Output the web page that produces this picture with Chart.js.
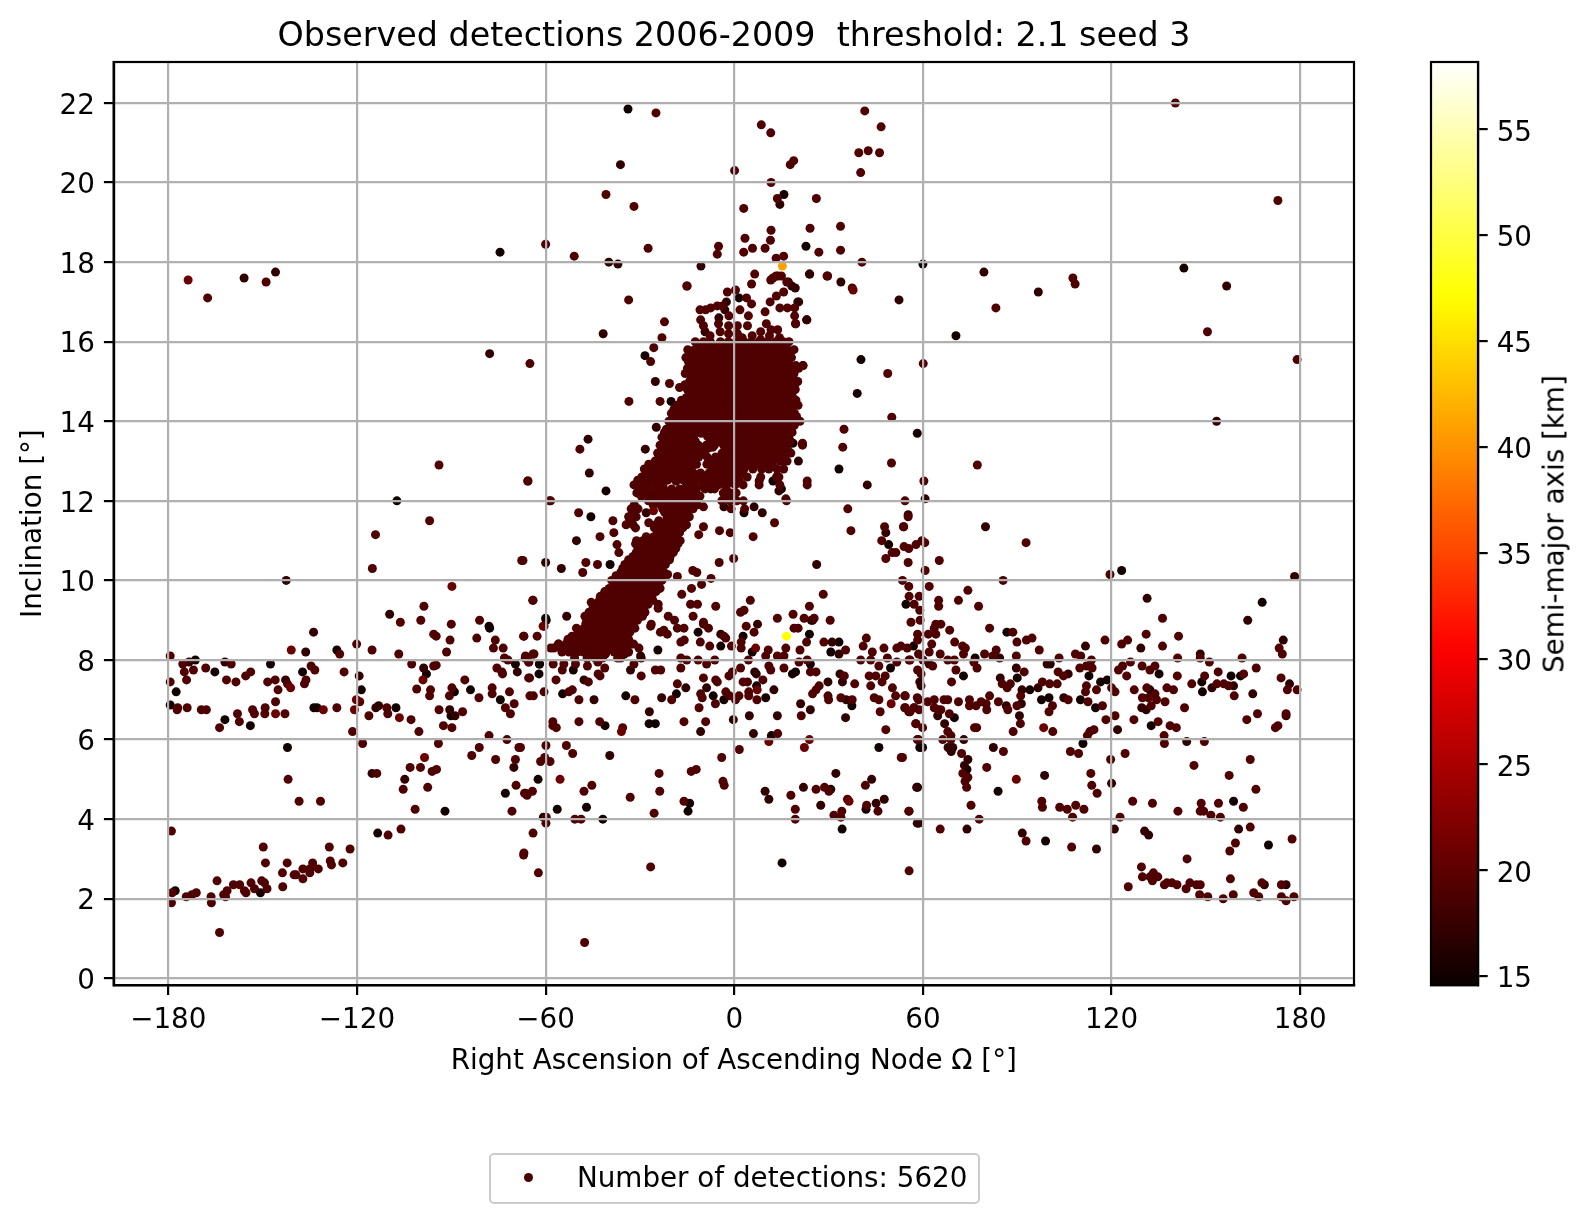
<!DOCTYPE html>
<html>
<head>
<meta charset="utf-8">
<title>Observed detections</title>
<script src="https://cdn.jsdelivr.net/npm/chart.js@4"></script>
<style>
html, body { margin: 0; background: #fff; }
body { width: 1591px; height: 1223px; position: relative; overflow: hidden; font-family: "DejaVu Sans", sans-serif; color: #000; }
canvas { position: absolute; top: 0; }
#legend { position: absolute; left: 489px; top: 1153px; width: 487px; height: 47px; border: 2.2px solid #cccccc; border-radius: 5px; font-size: 27.78px; line-height: 46px; }
#legend i { position: absolute; left: 33px; top: 18px; width: 9px; height: 9px; border-radius: 50%; background: #4b0000; }
#legend span { position: absolute; left: 86px; white-space: nowrap; }
#cbarLabel { position: absolute; left: 1554px; top: 524px; transform: translate(-50%, -50%) rotate(-90deg); font-size: 27.78px; white-space: nowrap; }
</style>
</head>
<body>
<canvas id="scatter" width="1468" height="1223" style="left:0;width:1468px;height:1223px"></canvas>
<canvas id="cbar" width="180" height="1223" style="left:1411px;width:180px;height:1223px"></canvas>
<div id="legend"><i></i><span>Number of detections: 5620</span></div>
<div id="cbarLabel">Semi-major axis [km]</div>
<script>
const raanTicks = [-180, -120, -60, 0, 60, 120, 180];
const inclTicks = [0, 2, 4, 6, 8, 10, 12, 14, 16, 18, 20, 22];
const cbarTicks = [15, 20, 25, 30, 35, 40, 45, 50, 55];

// semi-major axis of each shade group, km
const smaBright = 20.8, smaMain = 19, smaDark = 17, smaBlack = 15.2, smaOrange = 41, smaYellow = 47;

const orangePts = [[15.3,17.9]];
const yellowPts = [[16.6,8.6]];

// inclination -> RAAN rows of the dense streak and blob
const blobRows = [
[16,[-12.4,-9.8,-7.6,-4.4,-1.9,0.6,3.1,5.4,7.9,10.6,13.2,15.6,17.4]],
[15.8,[-14.8,-12.6,-10.2,-7.9,-5.1,-2.8,-0.2,2.4,4.6,7.1,9.5,12.1,14.7,16.9,19]],
[15.6,[-15.4,-13.3,-10.8,-8.4,-6.1,-3.6,-1,1.7,3.9,6.2,8.8,11.4,13.6,16.1,18.2]],
[15.4,[-13.9,-11.5,-9.1,-6.9,-4.2,-1.8,0.9,3.2,5.6,8,10.3,12.9,15.4,17.8,19.6,21.9]],
[15.2,[-15.6,-13,-10.4,-7.7,-5.3,-2.9,-0.3,2.1,4.8,7.3,9.7,12,14.6,16.8,19]],
[15,[-14.2,-11.8,-9.6,-6.6,-4.1,-1.5,1.2,3.6,6,8.5,11.1,13.4,15.8,17.9,20.2]],
[14.8,[-14.9,-12.3,-9.9,-7.2,-4.8,-2.2,0.5,2.9,5.3,7.7,10.2,12.7,15.1,17.3,19.4]],
[14.6,[-15.2,-13.1,-10.6,-8.2,-5.7,-3.3,-0.9,1.8,4.3,6.7,9.2,11.6,14,16.5,18.6]],
[14.4,[-18.2,-15.9,-13.4,-11,-8.8,-6.4,-3.8,-1.2,1.3,3.7,6.1,8.6,11,13.4,15.9,18.1,20.3]],
[14.2,[-20,-17.4,-14.9,-12.5,-10.1,-7.6,-5,-2.7,0,2.5,4.9,7.4,9.9,12.3,14.8,17,19.2]],
[14,[-20.8,-18.3,-16,-13.6,-11.2,-8.6,-6.2,-3.7,-1,1.6,4.1,6.5,9,11.5,13.8,16.2,18.7,20.9]],
[13.8,[-21.6,-19.1,-16.8,-14.2,-11.9,-9.4,-7,-4.4,-2,0.8,3.2,5.7,8.1,10.6,13,15.5,17.8]],
[13.6,[-23,-20.4,-18,-15.5,-13,-7.6,-5.1,-2.6,0.1,2.7,5.2,7.6,10.1,12.4,14.9,17.3]],
[13.4,[-23.6,-21.2,-18.8,-16.3,-13.9,-11.4,-8.9,-6.3,-3.4,-1,1.5,4,6.4,8.9,11.3,13.9,16.4,21.7]],
[13.2,[-24.4,-22,-19.6,-17,-14.6,-12,-9.5,-3.9,-1.6,0.7,3.3,5.8,8.2,10.7,13.1,15.4,18]],
[13,[-25.2,-22.8,-20.3,-17.9,-15.3,-12.8,-7.7,-5,-2.3,0.2,2.6,5.1,7.4,9.9,12.2,14.6,16.8]],
[12.8,[-28.6,-26,-23.4,-21,-18.6,-16.2,-13.7,-7,-4.4,-1.8,0.4,3.1,5.9,8.7,11,13.6,15.7]],
[12.6,[-29.4,-27.1,-24.6,-22,-19.5,-17,-14.4,-12,-9.4,-6.8,-4.1,-1.5,0.9,4.1,8.4,13.5,14.2]],
[12.4,[-31.9,-29.6,-27.4,-25,-22.7,-15.2,-12.8,-10,-7.5,-5,-2.4,0.3,2.8,7.9,23.2,14.5]],
[12.2,[-31,-28.9,-26.2,-23.8,-20.6,-18.1,-15.8,-13.1,-3.5,-1.2,0.6]],
[12,[-27.3,-24.7,-21.7,-19.4,-17,-14.6,-12.2,-4,-1.4,0.8,2.9,16.6]],
[11.8,[-32.8,-30.6,-22.8,-20.2,-18,-15.5,-13.1,-1,3.3]],
[11.6,[-33.6,-31.2,-21.4,-19,-16.8,-14.3]],
[11.4,[-34.4,-32.2,-25,-22.6,-20,-17.6,-15.2]],
[11.2,[-24.4,-22.2,-19.8,-17.4]],
[11,[-31.1,-29.1,-26.4,-24,-21.8,-19.4,-17.2]],
[10.8,[-30.6,-28,-25.7,-23.4,-21,-18.6]],
[10.6,[-32.2,-30,-27.6,-25.2,-22.9,-20.4]],
[10.4,[-34.8,-32.8,-30.4,-28.2,-25.6,-23.3,-21.9]],
[10.2,[-36.1,-34,-31.8,-29.4,-27,-24.8,-22.4]],
[10,[-39,-36.8,-34.4,-32,-29.7,-27.5,-25,-23]],
[9.8,[-39.8,-37.4,-35.2,-32.8,-30.5,-28.2,-25.9,-23.6]],
[9.6,[-42.6,-40.4,-38,-35.7,-33.4,-31,-28.7,-26.2]],
[9.4,[-43.8,-41.2,-39,-36.6,-34.2,-31.8,-29.4,-27.4]],
[9.2,[-46.2,-44.2,-41.8,-39.5,-37.2,-34.9,-32.4,-30,-28.4]],
[9,[-46.8,-44.9,-42.6,-40.2,-37.9,-35.5,-33.1,-30.8]],
[8.8,[-50.2,-47.8,-45.4,-43,-40.8,-38.4,-36,-33.7,-31.6]],
[8.6,[-51.6,-49.2,-46.6,-44.1,-41.5,-39.2,-36.8,-34.3]],
[8.4,[-56,-53.6,-52.2,-49.9,-47.3,-44.8,-42.4,-39.9,-37.6,-35,-32.8]],
[8.2,[-54.8,-52.6,-50.4,-48,-45.6,-43.3,-40.7,-38.2,-35.9,-33.8]],
[8.05,[-50.8,-46.8,-44.2,-41.9,-37.1]]
];
const blobFillRows = [
[15.9,[-11,-8.9,-6.2,-3.1,-0.7,1.9,4.3,6.6,9.2,11.8,14.3,16.4]],
[15.72,[-13.9,-11.6,-9.2,-6.9,-4.6,-2,0.6,3,5.3,8,10.4,12.9,15.3,17.7]],
[15.5,[-14.6,-12.2,-9.8,-7.3,-5,-2.6,0,2.4,4.9,7.1,9.6,12.2,14.5,17]],
[15.33,[-14.9,-12.4,-9.9,-8,-5.8,-3.4,-1,1.4,4,6.4,8.8,11.2,13.8,15.9,18.3,20.5]],
[15.1,[-13.6,-11.1,-8.7,-6.1,-3.5,-0.9,1.7,4.2,6.7,9,11.5,14,16.4,18.7]],
[14.92,[-15.7,-13.4,-10.9,-8.4,-5.9,-3.2,-0.7,2.2,4.5,6.9,9.4,11.9,14.4,16.7,19.1]],
[14.7,[-14,-11.5,-9,-6.3,-3.9,-1.4,1.3,3.7,6.2,8.6,11,13.6,16,18.2]],
[14.53,[-16.8,-14.5,-12,-9.7,-7.1,-4.6,-2.1,0.4,2.9,5,7.5,10,12.4,14.9,17.2,19.6]],
[14.3,[-19.2,-16.6,-14,-11.7,-9.3,-6.9,-4.4,-1.9,0.8,3.2,5.6,8,10.5,13,15.5,18]],
[14.12,[-19.4,-17.1,-14.7,-12,-9.8,-7,-4.5,-2.2,0.3,2.9,5.3,7.9,10.4,12.8,15.1,17.6,19.8]],
[13.9,[-20.3,-17.7,-15.2,-12.9,-10.4,-7.9,-5.4,-2.9,-0.2,2.2,4.7,7.1,9.7,12,14.4,16.9,19.1]],
[13.72,[-22.2,-19.7,-17.4,-14.9,-12.3,-6.3,-3.8,-1.2,1.3,3.9,6.2,8.8,11.2,13.7,16.1,18.4]],
[13.5,[-22.3,-19.9,-17.2,-14.8,-12.4,-7.1,-4.6,-1.9,0.9,3.4,5.9,8.3,10.9,13.2,15.7,17.9]],
[13.33,[-23.1,-20.7,-18.2,-15.7,-13.2,-10.7,-8,-2.7,-0.3,2.1,4.6,7,9.5,12,14.4,16.9]],
[13.1,[-23.8,-21.4,-18.9,-16.4,-14,-11.3,-8.6,-6,-3.4,-1,1.5,4,6.4,8.8,11.2,13.7,15.9]],
[12.92,[-27.2,-24.6,-22,-19.7,-17.2,-14.6,-12,-8.7,-5.9,-3.3,-0.8,1.8,4.4,6.8,9.6,12.1]],
[12.7,[-28,-25.4,-23,-20.4,-18,-15.5,-13,-10.7,-8,-5.5,-2.9,-0.3,2.3]],
[12.52,[-30.7,-28.4,-26,-23.6,-21.2,-18.7,-16.2,-13.6,-11.1,-8.6,-6.1,-3.3,-0.9,1.6]],
[12.3,[-30.3,-27.7,-25,-22.4,-19.9,-17.4,-14.7,-12,-9.3,-6.3,-2.6]],
[12.12,[-29.6,-27,-22.6,-20.3,-18.2,-15.9,-13.4,-10.9,-3,-0.4]],
[11.9,[-31.8,-25.8,-23.5,-21,-18.7,-16.3,-14,-11.7]],
[11.72,[-32.4,-22.2,-20,-17.6,-15.2]],
[11.5,[-33.2,-24,-21.4,-18.9,-16.4]],
[11.32,[-31.4,-25.4,-23.3,-21,-18.6,-16.4]],
[11.1,[-28,-25.6,-23.2,-20.8,-18.4]],
[10.92,[-31.4,-29.3,-27.2,-24.8,-22.4,-20.2,-17.9]],
[10.7,[-31.2,-28.8,-26.4,-24.2,-21.8,-19.4]],
[10.52,[-33.6,-31.1,-29,-26.7,-24.3,-22,-20.6]],
[10.3,[-35.5,-33.1,-30.7,-28.5,-26,-23.7]],
[10.12,[-37.6,-35.2,-33,-30.6,-28.4,-25.9,-23.2]],
[9.9,[-38.4,-36,-33.6,-31.2,-28.9,-26.6,-24.3]],
[9.72,[-41.2,-38.9,-36.5,-34.2,-31.9,-29.4,-27,-24.9]],
[9.5,[-42.9,-40.2,-37.7,-35.4,-33,-30.6,-28.2,-25.9]],
[9.32,[-44.9,-42.6,-40.3,-37.9,-35.6,-33.2,-31,-28.8]],
[9.1,[-47.5,-45.4,-43,-40.9,-38.5,-36.2,-33.8,-31.5,-29.2]],
[8.92,[-47.2,-44.3,-41.9,-39.6,-37.2,-34.8,-32.4]],
[8.7,[-49.6,-47.2,-44.9,-42.4,-40.1,-37.6,-35.3,-33.2]],
[8.52,[-52.9,-50.5,-48.1,-45.6,-43.1,-40.7,-38.4,-36.1,-33.6]],
[8.3,[-55.2,-53.1,-51,-48.7,-46.4,-44,-41.5,-39,-36.8,-34.4]]
];

const brightPts = [[-173.7,17.55],[-141.1,7.3],[-140.9,8.25],[-145.9,6.65],[-130.7,6.75],[-120.2,7],[-120.8,6.75],[-106.5,6.55],[-99,7.5],[-98.5,5.55],[-89.8,9.85],[-60.8,8.85],[-55.4,5],[-35.9,6.2],[-25.7,11.75],[7.3,7.25],[6.8,8.3],[23.9,6],[22.3,5.8],[11,5.95],[98.4,6.3],[89.7,5],[37.8,17.3],[49.9,6.9],[36.5,4.45]];

const mainPts = [
[-179.4,8.1],[-175.4,7.9],[-174.9,7.7],[-172,7.75],[-174.2,7.5],[-179.4,7.45],[-168.1,7.8],[-160,7.9],[-161.5,7.5],[-158.5,7.45],[-155.4,7.6],[-153.8,7.7],[-148.4,7.45],[-146,7.5],[-145.1,7.25],[-142.1,7.4],[-134.6,7.85],[-133.4,7.75],[-136.2,7.5],[-136.7,7.4],[-125.5,8.15],[-124.1,7.7],[-120.1,8.4],[-115.2,8.25],[-106.7,8.15],[-102.6,7.9],[-95.6,7.85],[-94.8,7.87],[-101,7.27],[-96.6,7.25],[-96.9,7.1],[-89.8,7.3],[-90.6,7.1],[-85.7,7.5],[-81.2,7.05],[-77,7.3],[-77,7.15],[-71.5,7.2],[-70,6.9],[-72.8,6.8],[-71.2,6.65],
[-177,6.8],[-177.2,6.75],[-174,6.8],[-169.5,6.75],[-167.9,6.75],[-158,6.65],[-157.4,6.45],[-163.7,6.3],[-153.2,6.75],[-152.6,6.65],[-149.2,6.8],[-149.3,6.65],[-145.9,6.95],[-142.9,6.65],[-126.4,6.8],[-119.1,6.95],[-116.2,6.6],[-110.5,6.8],[-110.2,6.65],[-102.8,6.5],[-100.3,6.2],[-121.4,6.2],[-118.2,5.9],[-93.9,6.75],[-86.4,6.7],[-92.5,6.35],[-89.8,6.3],[-94.1,5.9],[-78,6.1],[-72.3,6],[-68.5,5.8],[-81.1,5.8],[-83.5,5.6],[-75.9,5.5],[-69.6,5.5],[-69.4,4.85],[-66.7,4.65],[-65.9,4.6],[-70.7,4.2],[-103.1,5.3],[-99.8,5.3],[-96.1,5.2],[-94.7,5.25],[-97.5,4.8],[-105.3,4.75],[-101.5,4.25],[-113.7,5.15],[-141.9,5],[-138.4,4.45],[-131.6,4.45],[-106,3.75],[-110.1,3.6],[-67,3.1],[-179,3.7],
[-149.8,3.3],[-149.1,2.9],[-142.2,2.9],[-143.7,2.65],[-143.6,2.3],[-140,2.6],[-139.4,2.6],[-137.2,2.75],[-137.2,2.5],[-135,2.75],[-135,2.65],[-134.1,2.9],[-132.3,2.75],[-128.8,3.3],[-122.2,3.25],[-128.5,2.95],[-128.1,2.85],[-124.5,2.9],[-164.5,2.45],[-178.8,2.15],[-179,1.9],[-174.3,2.05],[-172.5,2.1],[-171.1,2.15],[-166.4,2.05],[-166.3,1.9],[-163.7,1.15],[-162.4,2.1],[-161.3,2.2],[-161.8,2.05],[-159.3,2.35],[-157.3,2.35],[-155.8,2.2],[-155.3,2.15],[-153.7,2.4],[-152.6,2.25],[-150.3,2.45],[-149.4,2.4],[-148.6,2.25],
[-95.6,8.65],[-94.8,8.6],[-90.4,8.5],[-91.5,8.2],[-81.9,8.55],[-76,8.5],[-73.5,8.3],[-76.6,8.3],[-73.1,8.05],[-72,8],[-66.4,8.1],[-65.4,7.95],[-75.5,7.8],[-73.9,7.7],[-73.7,7.65],[-65.4,7.55],[-65,7.1],[-106.2,8.95],[-90,8.9],[-81,9],[-99.7,9],
[-167.5,17.1],[-148.9,17.5],[-60,18.45],[-65,15.45],[-93.9,12.9],[-58.8,12],[-96.9,11.5],[-114.1,11.15],[-67.6,10.5],[-115.1,10.3],[-64.1,9.5],[-98.7,9.35],
[-33.6,17.05],[-15,17.4],[-22.2,16.5],[-23,16.1],[-25.6,15.85],[-26.6,15.5],[-20.6,14.95],[-17.4,14.85],[-23.6,14.5],[-33.5,14.5],[-49.1,13.3],[-65.6,12.5],[-58.4,12],[-49.5,11.7],[-38.6,11.5],[-42.7,11.1],[-38.3,11.2],[-37.3,10.9],[-36.7,10.7],[-67.2,10.5],[-47.2,10.45],[-43.5,10.4],[-48.2,10.2],[-64,9.5],[-45.5,9.45],[-60.5,8.85],[-66.9,8.6],[-62.7,8.6],[-64,8.15],[-66.5,8.05],
[-9.8,11.85],[-27.2,11.45],[-9.8,11.35],[-11.3,11.15],[-4.7,11.25],[-1.3,11.2],[6,11.1],[12.8,11.45],[-4.8,10.45],[-0.2,10.55],[-13.2,10.25],[-11.9,10.2],[-18.1,10.1],[-7.4,10.05],[-21.2,10.15],[-10.4,9.9],[-13.6,9.8],[-16.7,9.65],[5.1,9.5],[28.3,9.65],[23.9,9.35],[-13.9,9.4],[-11.7,9.4],[-5.9,9.35],[-24.2,9.4],[-24.2,9.3],[2,9.2],[3.1,9.25],[18.7,9.15],[-21,9.1],[-19,9],[-13.1,9.1],[-9.8,8.95],[13.7,9.05],[22.2,9.05],[25.4,9.05],[3.8,8.85],[-26.6,8.85],
[5.5,17.45],[-2.2,17.25],[0.4,17.3],[3.9,17.1],[5.5,16.95],[1.8,16.8],[4.5,16.65],[-3.8,16.9],[-5.4,16.9],[-7.5,16.85],[-9.1,16.8],[-10.9,16.8],[-1.7,16.65],[-10.7,16.55],[-9.8,16.4],[-7.7,16.15],[-5,16.45],[-4.5,16.25],[-1.8,16.4],[1,16.4],[4.2,16.4],[-1.8,16.2],[1,16.2],[2.5,16.1],[5.7,16.15],[8.4,16.25],[10.2,16.45],[9.8,16.75],[11.4,17],[13.4,17.15],[14.5,16.85],[16.9,16.85],[19.2,16.85],[19.5,16.45],[15.7,17.25],[16.7,17.5],[13.9,17.65],[12.3,17.6],[19.2,16.65],[11.7,16.3],[13.8,16.3],[11.2,16.15],[14.4,16.1],[8.4,16.05],[20,14.05],[21.7,13.45],[7.9,12.5],[13.5,12.6],
[-57.4,8.3],[-55.8,8.4],[-58.4,8.3],[-63.7,8.15],[-32,8.4],[-30.3,8.3],[-54.2,7.9],[-50.5,7.9],[-46.7,7.85],[-43.4,7.95],[-36.1,8.05],
[-10.6,13.7],[-8.5,13.62],[-9.4,13.78],[-8.4,13.42],[-6.8,13.35],
[-33.6,8.2],[-26.4,8.9],[-22.4,8.75],[-18.1,8.8],[-16,8.8],[-9.8,8.9],[-8.2,8.8],[-21.3,8.65],[-23.5,8.7],[-15.9,8.5],[-17,8.45],[-10.8,8.45],[-7.8,8.35],[-2.7,8.55],[-3.3,8.6],[-0.9,8.35],[2.2,8.45],[2.2,8.3],[6.3,8.7],[4.5,8],[10.8,8.25],[10,8.1],[13.7,8.1],[16.4,8.3],[15.8,8.1],[20.9,8.25],[23,8.45],[19,8.8],[20.3,8.8],[30.5,9],[28.5,8.45],[35.4,8.25],[42,8.55],[41,8.35],[40.2,8],[43.9,8.2],[43.4,8],[47.6,8.3],[48.7,8.05],[51.7,8.3],[55,8.3],[51.7,7.95],[55.9,8],[46,7.85],[48,7.6],[42.9,7.6],[45,7.6],[47,7.45],[43.4,7.35],[50.3,7.3],[51.3,7.1],[54.2,7.1],[58.2,7.05],[44.5,7.05],[46,7],[46.4,6.7],[54.2,6.8],[55.5,6.7],[57.2,6.8],[48.2,6.25],[57.7,6.4],[58.2,6],[53.1,5.55],[20.6,7.95],[15.8,7.8],[11,7.85],[11.6,7.75],[23.2,8],[24.2,7.7],[26,7.7],[35,7.6],[38.3,7.4],[27,7.35],[26,7.25],[24.9,7.15],[29.8,7.1],[30,7],[33.9,7.05],[37.5,7],[21.3,6.6],
[2,7.8],[9.1,7.5],[2.8,7.45],[4.2,7.45],[4.6,7.2],[4.6,7.1],[7.2,7],[-1.7,7.6],[-0.6,7.7],[-5.9,7.5],[-5.4,7.45],[-9.8,7.55],[-2.7,7.2],[-1.5,7.1],[1.5,7.1],[0.4,7],[-10.7,7.15],[-10.2,7.05],[-6,6.9],[-18.1,7.4],[-19.9,7],[-11.2,6.8],[-17,8.05],[-17,7.8],[-15.1,8],[-11.5,8],[-6.2,8],[-8.8,7.9],[-25.1,7.75],[-23.4,7.75],[-29.6,7.6],[-31.9,7.9],[-42.7,7.6],[-43.3,7.65],[-41.2,7.8],[-46.4,7.45],[-51.5,7.25],[-52.6,7.2],[-49.4,7],[-31.6,7],[-56.7,7.5],[-65.1,7.55],[-60.5,7.2],[-63.9,7.1],[-65.3,7.95],[-57.6,7.9],[-54.7,7.75],
[-16,6.45],[-9.1,6.45],[13.8,6.15],[1.6,5.75],[-4,5.55],[-49.4,6.45],[-42.8,6.45],[-35.5,6.3],[-57.7,6.45],[-57.7,6.35],[-56.6,6.3],[-68,5.8],[-59.9,5.85],[-53.4,5.85],[-51.4,5.65],[-60.3,5.55],[-61.6,5.45],[-58.6,5.45],[-45.3,4.85],[-47.8,4.7],[-33.1,4.55],[-23.9,5.15],[-23.7,4.7],[-13.7,5.2],[-12.1,5.25],[-3.6,4.95],[-3.2,4.85],[-16,4.45],[-25.5,4.15],[-59.8,4.05],[-59.9,3.9],[-50.7,4],[-48.7,4],[-64.2,4.7],[-66.4,4.65],[-64,3.65],[-66.9,3.15],[-62.3,2.65],[-26.6,2.8],[-47.6,0.9],[55.6,2.7],[19.4,4],[19.4,4.25],[31.7,4.1],[34.2,4.2],[33.9,4.05],[42.1,4.35],[45.7,4.2],[55.5,4.2],[36,4.5],[28.7,4.8],[30.1,4.7],[26,4.75],[18,4.6],[41.7,4.85],
[54.3,12],[55.3,11.6],[53.8,11.35],[92.8,10.95],[59.7,11],[60.6,10.95],[57.8,10.9],[54,10.85],[55.5,10.8],[55.3,10.45],[65.2,10.5],[60.7,10.25],[53.5,10],[85.5,10],[119.5,10.15],[55.5,9.85],[62,9.85],[74.3,9.75],[71.3,9.5],[77.7,9.35],[65,9.5],[65,9.35],[58.8,9.6],[55.6,9.6],[57.2,9.4],[59,9.25],[136.2,9.05],[59.1,9],[56.2,8.95],[64.1,8.9],[65.7,8.9],[63.6,8.8],[68.5,8.75],[61.7,8.65],[58.3,8.65],[58.3,8.5],[64.1,8.65],[81.2,8.8],[88.6,8.7],[89.9,8.45],[92.9,8.5],[94.7,8.55],[97,8.25],[117.9,8.5],[123.2,8.4],[125.1,8.5],[131,8.65],[136.2,8.35],[141.3,8.6],[173.3,8.3],[174.3,8.15],[70.1,8.45],[72.6,8.35],[73.5,8.3],[62.8,8.4],[62,8.2],[65.5,8.15],[53,8.35],[58.6,8.15],[72.9,8.15],[79.6,8.15],[83.3,8.25],[82.2,8.1],[89.7,8.1],[55.6,8],[60,8],[67.9,8],[70,8],[76.2,7.95],[77.2,7.8],[70.5,7.75],[63.1,7.85],[58.3,7.75],[59.4,7.65],[69.1,7.45],[92.2,7.7],[85.2,7.4],[87.8,7.4],[86.8,7.3],[91.1,7.1],[98,7.45],[100.3,7.4],[102.7,7.4],[103.3,8.05],[103,7.7],[104.7,7.6],[108.5,8.15],[110.2,8.1],[109.9,7.8],[112,7.85],[113.6,8],[113.8,7.8],[112,7.35],[111.7,7.2],[115.2,7.25],[120,7.3],[121.1,7.2],[122.2,7.75],[123.5,7.85],[126,7.95],[124.8,7.6],[127.2,7.25],[129.7,7.85],[132.2,7.75],[133.8,7.85],[140.9,7.6],[141,8.05],[148.2,8.05],[151.1,7.95],[153.9,7.7],[149.6,7.6],[145.5,7.4],[153.5,7.4],[155.7,7.4],[157.2,7.35],[159,7.1],[162,7.65],[161.5,8.05],[166,7.8],[173.9,7.55],[175.9,7.25],[179,7.25],[137.6,7.3],[139.7,7.25],[137,6.95],[131.2,7.3],[133.8,7.15],[129.8,7.05],[131.7,7.05],[134.3,7],[132.6,6.85],[143.2,6.8],[127.1,6.5],[134.8,6.45],[138.6,6.35],[140.6,6.3],[136.7,6.1],[136.8,5.9],[149.5,5.95],[163,6.5],[166.4,6.65],[175.5,6.65],[172.1,6.3],[172.9,6.35],[121.1,6.6],[118.2,6.5],[114.4,6.25],[113.1,6.2],[112.3,6.1],[106.9,5.7],[109.5,5.65],[119.7,5.5],[124.3,5.65],[164.1,5.5],[146.2,5.35],[113.4,5.15],[113.7,4.85],[115.4,4.65],[157.4,5.1],[165.9,4.75],[126.7,4.45],[133,4.4],[141.1,4.2],[148.5,4.4],[148.2,4.2],[149.3,4.2],[151.6,4.1],[154,4.4],[154.6,4.05],[161.9,4.3],[122.7,4.05],[97.8,4.45],[98,4.3],[103.5,4.3],[105.9,4.25],[108.6,4.35],[111.2,4.25],[107.6,4.05],[75.3,4.35],[77.9,4],[55.6,4.2],[65.5,3.75],[92.8,3.45],[107.3,3.3],[164.1,3.8],[177.4,3.5],[159.4,3.4],[157.6,3.2],[144,3],
[129.5,2.8],[129.8,2.55],[132.2,2.55],[133.3,2.65],[134.7,2.55],[133,2.45],[137.6,2.4],[139.2,2.4],[140.8,2.35],[136.8,2.35],[143.7,2.25],[144.9,2.4],[148.2,2.35],[157.8,2.5],[125.3,2.3],[147,2.35],[148,2.1],[150.6,2.05],[155.5,2],[158.7,2.1],[166.8,2.05],[167.8,2.4],[165.2,2.15],[174,2.35],[174,2.05],[175.5,1.95],[178,2.05],
[63.6,6.8],[64.9,6.75],[65.7,6.75],[68.4,6.65],[57.8,6.4],[59.9,6.3],[67.9,6.2],[68.9,6.1],[66.3,6],[68.9,6],[72.3,5.65],[58.6,6],[53.5,5.55],[72.7,5.15],[74.3,5.05],[73.4,4.95],[73.9,4.8],[80.3,5.3],[85.6,5.7],[54.4,7.1],[58.6,7],[61.5,6.95],[63.6,7],[66.7,7],[67.9,7],[71.3,6.95],[74.8,7],[74.8,6.85],[76.9,6.85],[78.5,6.95],[80.1,6.9],[80.3,6.75],[81.2,7.1],[84,6.95],[87,6.75],[89.9,6.85],[91,6.4],[88.7,6.2],[77.1,6.3],[76.4,6.3],[54.4,6.8],[57.2,6.8],[55.9,6.7],[58.8,6.75],[101.3,6.2],[106.2,7],[112.5,6.95],[117.1,6.85],[101.2,6.85],[100.1,6.7],
[-24.9,21.75],[41.5,21.8],[46.7,21.4],[8.6,21.45],[11.6,21.25],[39.6,20.75],[42.6,20.8],[46.2,20.75],[17.8,20.45],[18.9,20.55],[0.1,20.3],[40.2,20.25],[11.7,20],[13.7,19.6],[26.1,19.6],[-40.8,19.7],[-31.9,19.4],[3,19.35],[24.1,18.85],[33.8,18.9],[11.7,18.8],[11.5,18.55],[3.4,18.6],[5.8,18.35],[9.8,18.35],[3,18.25],[-5,18.4],[-5.4,18.2],[26.9,18.25],[33.8,18.3],[-50.9,18.15],[-27.4,18.35],[40.6,18],[13.3,18.1],[15.7,18.15],[6.5,17.7],[11.6,17.55],[13.3,17.65],[15,17.65],[29.5,17.65],[37.5,17.35],[-15.1,17.4],
[140.3,22],[172.9,19.55],[107.7,17.6],[108.4,17.45],[83.2,16.85],[150.5,16.25],[179,15.55],[29.7,17.65],[60.1,15.45],[48.8,15.2],[21.8,15.4],[19.5,16.45],[50.1,14.1],[34.9,13.8],[34.5,13.35],[50,12.95],[77.3,12.9],[23.2,12.5],[60.3,12.5],[16.4,12.05],[36.1,11.8],[37.1,11.25],[47.8,11.35],[53.9,11.35],[46.9,11],[50.2,10.7],[51.4,10.7],[48.2,10.55]
];

const darkPts = [
[-173.4,7.95],[-162,7.95],[-142.7,7.5],[-136.3,8.2],[-133.8,8.7],[-98.8,7.8],[-119.3,7.6],[-114,6.8],[-113.1,6.85],[-90.5,6.75],[-88.8,6.6],[-104.8,5],[-115.2,5.15],[-70.1,5.3],[-155.9,17.6],[-145.9,17.75],[-77.8,15.7],[-65.7,12.5],[-60,10.45],[-142.5,10],[-109.6,9.15],[-67,8.6],[-69,7.7],
[-41.7,16.2],[-25.1,15],[-24.8,13.85],[-46.5,13.55],[-28.3,13.3],[-46.1,12.7],[-50.2,11],[-55,10.3],[-53.3,9.1],
[26.2,10.4],[7.4,8.9],[-2.5,17],[-3,16.8],[-4.9,16.6],[-9.3,16.25],[23,16.55],[20.2,17],[18.3,17.4],[-4.3,8.65],[24.5,9],[31.1,8.45],[33.3,8.15],[33.6,7.65],[34.4,7.45],[29.8,7.45],[35.6,7],[21.1,6.9],[24.2,6.75],[35.4,6.55],[6.5,7.7],[7,7.65],[12.6,7.25],[-8.8,7.3],[-15.4,7.3],[-23.1,7.05],[-47.8,7.5],[-44.6,7],[-33,7.75],[-29.6,8.05],
[-27,6.7],[-10.7,6.2],[-0.3,6.5],[4.8,6.6],[13.7,6.6],[6.1,6.15],[-39.6,5.6],[22,4.8],[9.8,4.7],[11,4.5],[27.5,4.35],[45.1,4.4],[47.7,4.5],[58.2,3.9],[32.3,5.15],[43.7,5],[58,4.8],
[59,7.45],[59.4,7.35],[62,7.9],[64.7,6.6],[66.9,6.4],[68,5.8],[69.5,5.8],[69,5.7],[73,6],[74.3,5.5],[73.2,5.35],[82.4,5.8],[84.4,8.05],[89.7,7.8],[84.6,7.55],[91.5,7.25],[96.6,7.3],[99.5,7.9],[100.5,7.9],[106.2,7.65],[86.5,6.85],[90.7,6.6],[91.3,6.9],[104.8,7.05],[129.6,6.8],[131,6.75],[121.9,6.25],[143.9,5.95],[111.7,8.35],[129.3,8.3],[148.2,8.15],[176.6,7.4],[164.9,7.15],[151.9,7.3],[158.8,7.35],[163.3,9],[174.6,8.5],[175.5,6.6],[131.3,9.55],[178.2,10.1],[79.9,11.35],[98.7,5.1],[120,4.9],[58.7,3.9],[74,3.75],[91.6,3.65],[115.2,3.25],[120.9,3.75],[130.5,3.7],[131.8,3.6],[160.4,3.75],[168.6,2.35],[175.5,2.35],
[-36.2,20.45],[14.5,19.45],[-39.9,18],[-37,17.95],[-10.6,17.9],[23.9,17.7],[33.9,17.5],[17.2,17.5],[19.4,17.35],[79.4,17.75],[96.7,17.25],[156.6,17.4],[153.4,14],[52.4,17.05],[24,17.7],[23.1,16.55],[20.5,17],[42.3,12.4],[60.7,12.05],[55.3,11.65],[48.2,11.2],
[10,15.65],[6.8,15.4],[5.4,15.15],[15,15.6],[12.3,14.9],[5.2,14.6],[-10.7,14.4],[-13.3,14.15],[-20.2,13.2],[2,13.7],[6.3,13.5],[15.3,13],[20.4,13],[14.2,12.25],[-25.6,12.1],[-22.4,12.75],[-13.9,12.75],[-7.5,12.3],[-3.3,11.85],[6.3,11.85],[8.9,11.7],[-21.3,11.25],[-23.4,10.9],[-41,8.15],[-29.8,8.1],[-43.6,8.6],[-32,9.9],[-37.2,9.4],[0.4,14.1],[-4.4,14.45],[10,14.25],[10.5,13.3],[-2.2,15.3],[-8.6,15.4],[1.4,15.3],[-6.4,15.2],[-35,8.6],
[-8,14.7],[3,15.9],[9,15],[13.6,14.2],[-1,13.2],[4,12.9],[-15,13.9],[-18.5,12.5],[-28,11.7],[-26,10.2],[-36,9.1],[-46,8.5],[-50,8.2],[8,13],[12.5,13.7],[-11,15.7]
];

const blackPts = [
[-171.4,8],[-177.5,7.2],[-165.2,7.7],[-147.5,7.9],[-137.3,7.7],[-126.4,8.25],[-97.9,7.65],[-118.6,7.25],[-89,7.2],[-83.9,7.25],[-74.4,7],[-69.6,7.9],[-77.8,8.8],[-179.4,6.87],[-162,6.5],[-153.9,6.35],[-133.7,6.8],[-132.7,6.8],[-107.6,6.8],[-90.1,6.6],[-72.8,4.65],[-92,4.2],[-142.1,5.8],[-113.4,3.65],[-177.8,2.2],[-150.7,2.15],
[-74.5,18.25],[-107.3,12],[-78,8.85],[-60,9.05],[-28.4,15.65],[-20.1,14.5],[-40.8,12.25],[-45.6,11.6],[-39.5,10.4],[-59.8,9],[-62,7.9],[1.5,17.1],[24.9,9],[-11.5,8.7],[2.8,8.6],[-4.3,8.35],[5.7,8.2],[23.9,8.65],[33.3,8.45],[30.7,8.2],[57,8.35],[49.7,7.8],[46,5.8],[59,5.8],[24.2,7.9],[19.5,7.7],[18.5,7.65],[37.4,6.85],[7.1,7.35],[10,7.05],[-3.3,7],[-6.7,7.1],[-18.4,7.15],[-24.3,8.25],[-54.6,7.15],[-34.5,7.1],[-62.1,7.65],[-61.9,7.9],[-51.2,7.75],
[-27.1,6.4],[-25.1,6.4],[-41.1,6.35],[11.8,6.1],[-62.4,5],[-14.2,4.4],[-14.7,4.2],[-47,4.3],[-56.3,4.25],[-60.7,4.05],[-41.8,4],[15.2,2.9],[34.3,3.75],[41.9,4.25],[30.7,4.75],
[123.2,10.25],[167.9,9.45],[54.6,9.4],[86.7,8.7],[76.6,8.05],[72.9,7.6],[90,7.55],[94,7.25],[112.8,7.6],[116.5,7.45],[118.6,7.5],[135.1,7.65],[148.7,7.45],[148.9,7.2],[158,7.6],[161,7.6],[132.2,7.25],[132.6,6.35],[70,6.55],[59.9,5.8],[74,5.25],[58.3,4.8],[83.9,4.7],[97.7,7],[100.1,7.05],[110.1,7],[114.9,6.8],[110.9,5.9],[158.8,4.45],[99,3.45],[169.9,3.35],
[-33.8,21.85],[15.8,19.7],[22.8,18.4],[60,17.95],[143,17.85],[70.5,16.15],[40.3,15.55],[39.1,14.7],[58.2,13.7],[33.3,12.8],[15,12.3],[49.1,10.9],
[15.6,15],[17.7,15.2],[-17.6,13.8],[18.7,13.45],[12.3,12.5],[-27,12.6],[3.1,11.7],[-35,8.15],[-47.8,8.35]
];

const cbarMin = 14.57, cbarMax = 58.18;

function hot(v) {
    const t = Math.min(1, Math.max(0, (v - cbarMin) / (cbarMax - cbarMin)));
    const r = Math.min(1, 0.0416 + t * 0.9584 / 0.365);
    const g = Math.min(1, Math.max(0, (t - 0.365) / 0.381));
    const b = Math.min(1, Math.max(0, (t - 0.746) / 0.254));
    return `rgb(${Math.round(r * 255)},${Math.round(g * 255)},${Math.round(b * 255)})`;
}

const FONT = '"DejaVu Sans", sans-serif';
const LINE = 2.2;
Chart.defaults.font.family = FONT;
Chart.defaults.color = '#000';

function toXY(list) {
    return list.map(p => ({ x: p[0], y: p[1] }));
}

const blobPts = [];
blobRows.concat(blobFillRows).forEach(row => row[1].forEach(ra => blobPts.push([ra, row[0]])));

function layer(list, sma) {
    return { data: toXY(list), backgroundColor: hot(sma), pointRadius: 4.5, pointBorderWidth: 0, pointHoverRadius: 4.5 };
}

const frame = {
    id: 'frame',
    afterDraw(chart) {
        const a = chart.chartArea, c = chart.ctx;
        c.save();
        c.strokeStyle = '#000';
        c.lineWidth = LINE;
        c.strokeRect(a.left, a.top, a.right - a.left, a.bottom - a.top);
        c.restore();
    }
};

new Chart(document.getElementById('scatter').getContext('2d'), {
    type: 'scatter',
    data: {
        datasets: [
            layer(orangePts, smaOrange),
            layer(yellowPts, smaYellow),
            layer(brightPts, smaBright),
            layer(mainPts, smaMain),
            layer(blobPts, smaMain),
            layer(darkPts, smaDark),
            layer(blackPts, smaBlack)
        ]
    },
    options: {
        responsive: false,
        animation: false,
        events: [],
        layout: { padding: 0 },
        plugins: {
            legend: { display: false },
            tooltip: { enabled: false },
            title: {
                display: true,
                text: 'Observed detections 2006-2009  threshold: 2.1 seed 3',
                font: { size: 33.33, weight: 'normal', family: FONT },
                color: '#000',
                padding: { top: 17.5, bottom: 4.5 }
            }
        },
        scales: {
            x: {
                type: 'linear',
                min: -197.4,
                max: 197.1,
                afterBuildTicks: s => { s.ticks = raanTicks.map(v => ({ value: v })); },
                afterFit: s => { s.height = 237.7; },
                grid: { color: '#b0b0b0', lineWidth: LINE, z: 1, tickColor: '#000', tickLength: 9.7 },
                border: { color: '#000', width: LINE, z: 1 },
                ticks: {
                    font: { size: 27.78 },
                    padding: 9,
                    maxRotation: 0,
                    autoSkip: false,
                    callback: v => String(v).replace('-', '\u2212')
                },
                title: {
                    display: true,
                    text: 'Right Ascension of Ascending Node \u03a9 [\u00b0]',
                    font: { size: 27.78 },
                    padding: { top: 0, bottom: 145 }
                }
            },
            y: {
                type: 'linear',
                min: -0.176,
                max: 23.03,
                afterBuildTicks: s => { s.ticks = inclTicks.map(v => ({ value: v })); },
                afterFit: s => { s.width = 113.6; },
                grid: { color: '#b0b0b0', lineWidth: LINE, z: 1, tickColor: '#000', tickLength: 9.7 },
                border: { color: '#000', width: LINE, z: 1 },
                ticks: { font: { size: 27.78 }, padding: 9, autoSkip: false, labelOffset: 3.5 },
                title: {
                    display: true,
                    text: 'Inclination [\u00b0]',
                    font: { size: 27.78 },
                    padding: { top: 16.8, bottom: 0 }
                }
            },
            // empty right gutter so the title centres over the plot
            gutter: {
                type: 'linear',
                position: 'right',
                afterFit: s => { s.width = 114; },
                grid: { display: false },
                border: { display: false },
                ticks: { display: false }
            }
        }
    },
    plugins: [frame]
});

// colour bar: one floating bar spanning the range, filled with the hot map
new Chart(document.getElementById('cbar').getContext('2d'), {
    type: 'bar',
    data: {
        labels: ['sma'],
        datasets: [{
            data: [[cbarMin, cbarMax]],
            barPercentage: 1,
            categoryPercentage: 1,
            backgroundColor(ctx) {
                const a = ctx.chart.chartArea;
                if (!a) return '#000';
                const g = ctx.chart.ctx.createLinearGradient(0, a.bottom, 0, a.top);
                for (let i = 0; i <= 40; i++) {
                    g.addColorStop(i / 40, hot(cbarMin + (cbarMax - cbarMin) * i / 40));
                }
                return g;
            }
        }]
    },
    options: {
        responsive: false,
        animation: false,
        events: [],
        layout: { padding: { left: 20, right: 0, top: 62, bottom: 237.7 } },
        plugins: { legend: { display: false }, tooltip: { enabled: false } },
        scales: {
            x: { display: false },
            y: {
                position: 'right',
                min: cbarMin,
                max: cbarMax,
                afterBuildTicks: s => { s.ticks = cbarTicks.map(v => ({ value: v })); },
                afterFit: s => { s.width = 113; },
                grid: { drawOnChartArea: false, tickColor: '#000', tickLength: 9.7, lineWidth: LINE },
                border: { color: '#000', width: LINE },
                ticks: { font: { size: 27.78 }, padding: 9, autoSkip: false, labelOffset: 4 }
            }
        }
    },
    plugins: [frame]
});
</script>
</body>
</html>
